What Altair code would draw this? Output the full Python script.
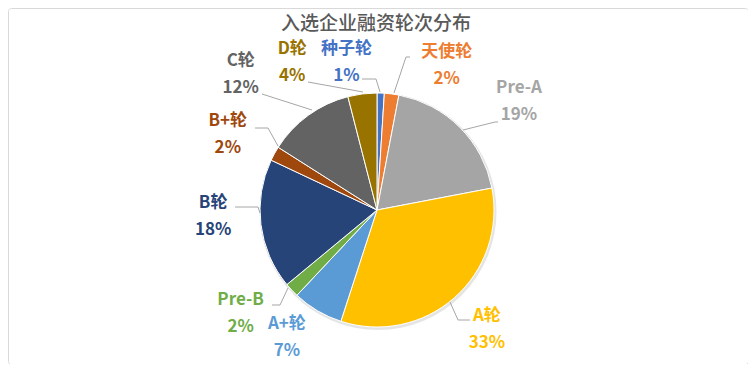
import altair as alt
import pandas as pd

# ---------------- data ----------------
categories = ["种子轮", "天使轮", "Pre-A", "A轮", "A+轮", "Pre-B", "B轮", "B+轮", "C轮", "D轮"]
shares = [1, 2, 19, 33, 7, 2, 18, 2, 12, 4]
percent_labels = ["1%", "2%", "19%", "33%", "7%", "2%", "18%", "2%", "12%", "4%"]
colors = ["#4472C4", "#ED7D31", "#A5A5A5", "#FFC000", "#5B9BD5",
          "#70AD47", "#264478", "#9E480E", "#636363", "#997300"]
title_text = "入选企业融资轮次分布"

# ---------------- layout (not data) ----------------
W, H = 740, 356
CX, CY, R = 369, 202, 117
LINE_H = 27
label_angle = [348.3, 25.8, 52.5, 137.3, 215.3, 232.9, 267.9, 296.7, 314.8, 330.1]
label_radius = [151, 160, 179, 162, 156, 171, 164, 167, 192, 170]
leader_points = [
    [(-15, -131), (-1, -131), (3, -118)],
    [(33, -153), (29, -153), (17, -117)],
    [(86, -80), (118, -88), (121, -88)],
    [(73, 92), (81, 110), (93, 110)],
    [],
    [(-89, 78), (-97, 95), (-105, 95)],
    [(-117, 3), (-119, -3), (-142, -3)],
    [(-99, -64), (-109, -82), (-122, -82)],
    [(-65, -100), (-115, -116)],
    [(-14, -118), (-69, -128)],
]

df = pd.DataFrame({
    "category": categories,
    "share": shares,
    "idx": list(range(len(categories))),
    "label": [f"{c}\n{p}" for c, p in zip(categories, percent_labels)],
    "lab_angle": label_angle,
    "lab_r": label_radius,
})

rows = []
for cat, pts in zip(categories, leader_points):
    for k, (dx, dy) in enumerate(pts):
        rows.append({"category": cat, "seq": k, "px": CX + dx, "py": CY + dy})
leaders = pd.DataFrame(rows)

color_scale = alt.Scale(domain=categories, range=colors)
FONT = "Noto Sans CJK SC"

shadow = alt.Chart(pd.DataFrame({"s": [1]})).mark_arc(
    theta=0, theta2=6.2832, outerRadius=R + 1.5, color="#000000", opacity=0.10
).encode(x=alt.value(CX + 1), y=alt.value(CY + 1.5))

pie = alt.Chart(df).mark_arc(outerRadius=R, stroke="white", strokeWidth=1).encode(
    theta=alt.Theta("share:Q", stack=True),
    color=alt.Color("category:N", scale=color_scale, legend=None),
    order=alt.Order("idx:Q"),
    x=alt.value(CX),
    y=alt.value(CY),
)

lines = alt.Chart(leaders).mark_line(color="#A6A6A6", strokeWidth=1).encode(
    x=alt.X("px:Q", scale=None),
    y=alt.Y("py:Q", scale=None),
    detail="category:N",
    order="seq:Q",
)

labels = alt.Chart(df).mark_text(
    font=FONT, fontSize=17, fontWeight="bold", lineBreak="\n", lineHeight=LINE_H,
    align="center", baseline="middle", dy=-LINE_H / 2,
).encode(
    theta=alt.Theta("lab_angle:Q", scale=alt.Scale(domain=[0, 360], range=[0, 6.283185307])),
    radius=alt.Radius("lab_r:Q", scale=None),
    text="label:N",
    color=alt.Color("category:N", scale=color_scale, legend=None),
    x=alt.value(CX),
    y=alt.value(CY),
)

title = alt.Chart(pd.DataFrame({"t": [title_text]})).mark_text(
    font=FONT, fontSize=19, fontWeight=500, color="#595959",
    align="center", baseline="middle",
).encode(text="t:N", x=alt.value(CX - 1), y=alt.value(15.5))

chart = alt.layer(shadow, pie, lines, labels, title).resolve_scale(
    theta="independent", radius="independent", color="shared"
).properties(
    width=W, height=H, autosize="none", padding=0,
).configure_view(stroke="#D9D9D9", strokeWidth=1, cornerRadius=3)

chart.save("out.html", embed_options={"renderer": "svg", "actions": False})
